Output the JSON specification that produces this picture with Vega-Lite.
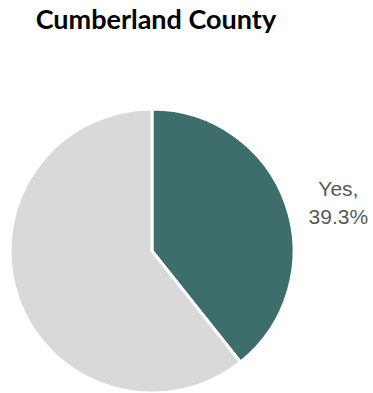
{
  "$schema": "https://vega.github.io/schema/vega-lite/v6.json",
  "autosize": "none",
  "width": 304,
  "height": 284,
  "padding": {"left": 0, "top": 109, "right": 69, "bottom": 0},
  "background": "white",
  "title": {
    "text": "Cumberland County",
    "anchor": "start",
    "font": "Lato",
    "fontSize": 27,
    "fontWeight": "bold",
    "color": "#000000",
    "dx": 56,
    "offset": 68
  },
  "data": {
    "values": [
      {"answer": "Yes", "pct": 39.3, "order": 1, "label": "Yes,\n39.3%"},
      {"answer": "No", "pct": 60.7, "order": 2, "label": ""}
    ]
  },
  "encoding": {
    "theta": {"field": "pct", "type": "quantitative", "stack": true},
    "order": {"field": "order", "type": "quantitative"},
    "color": {
      "field": "answer",
      "type": "nominal",
      "scale": {"domain": ["Yes", "No"], "range": ["#3d6e6b", "#d9d9d9"]},
      "legend": null
    }
  },
  "layer": [
    {"mark": {"type": "arc", "stroke": "white", "strokeWidth": 3}},
    {
      "mark": {"type": "text", "radius": 190, "font": "Liberation Sans", "fontSize": 21, "color": "#595959", "lineBreak": "\n", "lineHeight": 28, "dx": 7, "dy": 2},
      "encoding": {"text": {"field": "label"}, "color": {"value": "#595959"}}
    }
  ],
  "config": {"view": {"stroke": null}}
}
